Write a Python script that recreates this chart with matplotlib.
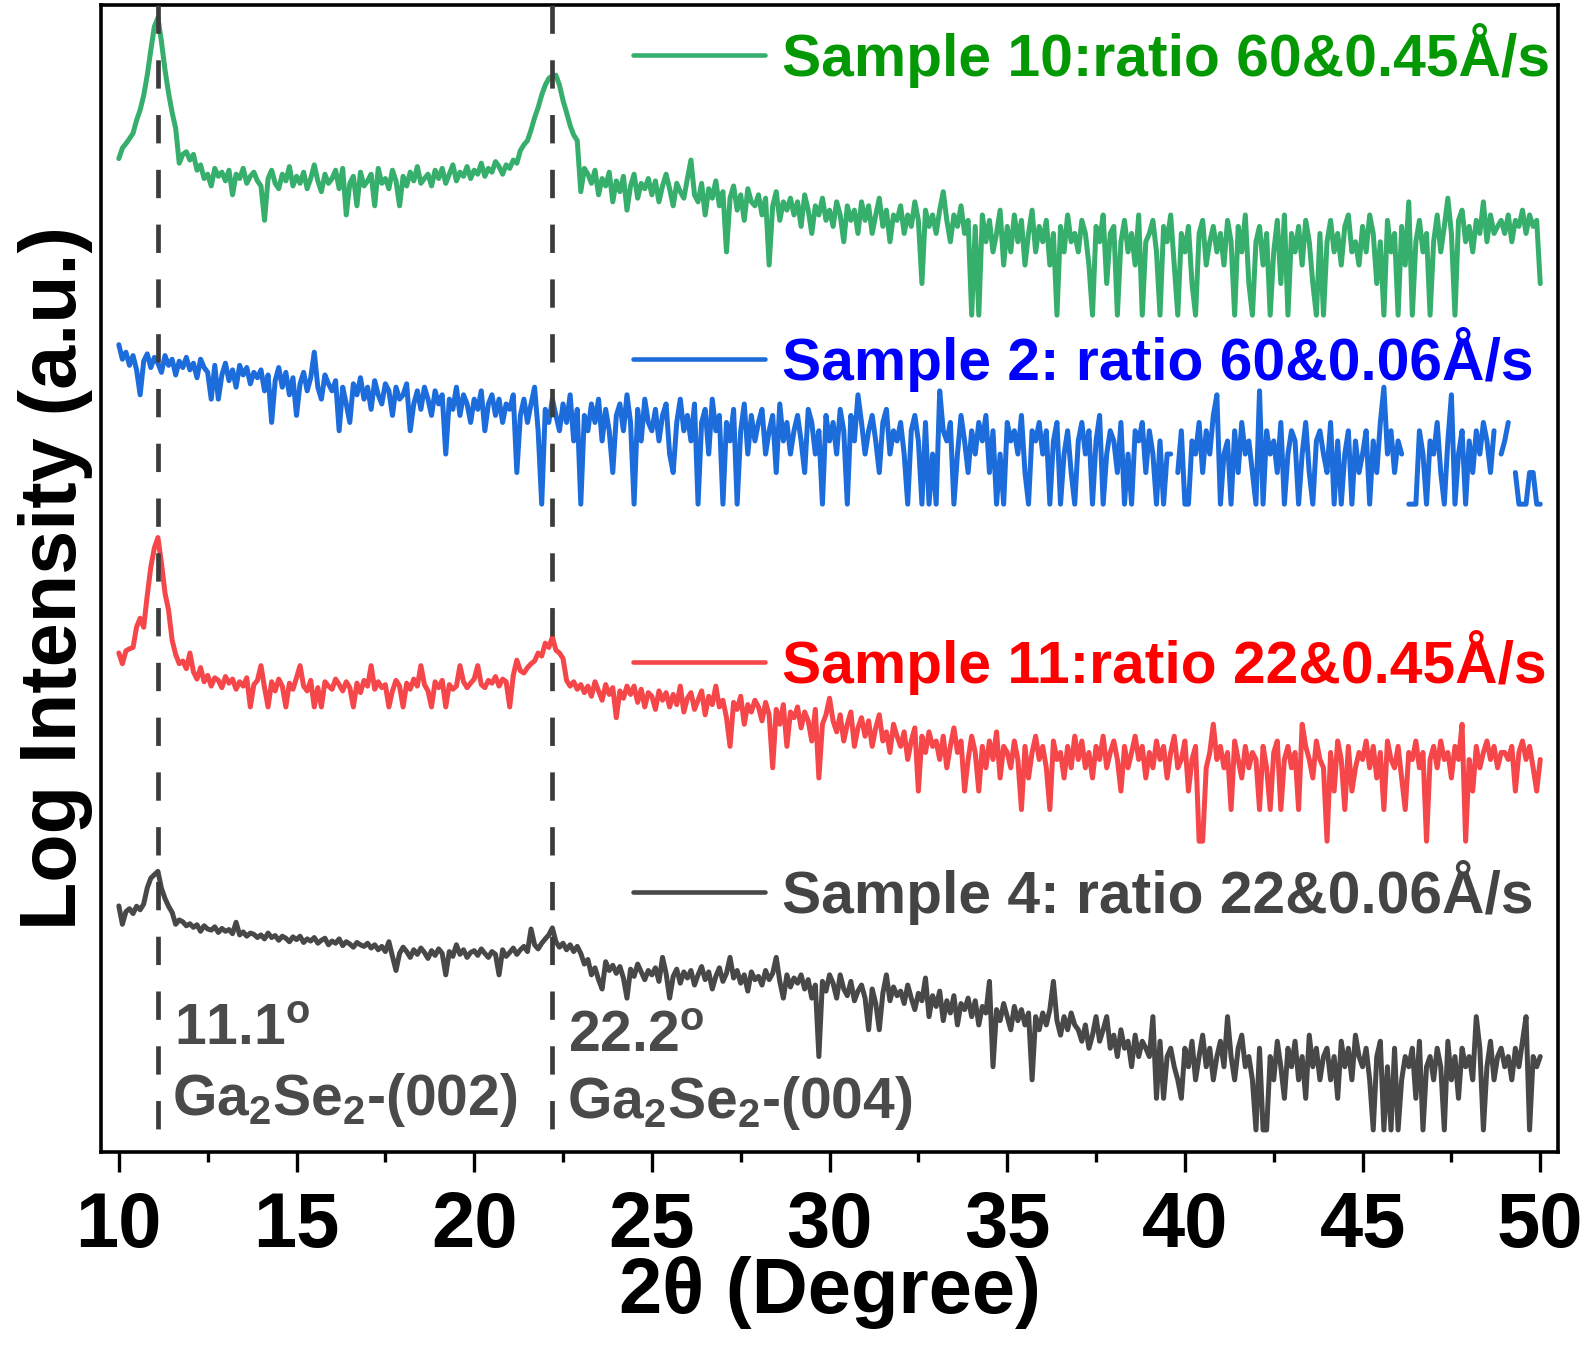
import numpy as np
import matplotlib
matplotlib.use("Agg")
import matplotlib.pyplot as plt
from matplotlib.ticker import MultipleLocator
from matplotlib.transforms import blended_transform_factory

# ---------------------------------------------------------------------------
# XRD scans, 2-theta from 10 to 50 degree in 0.1 degree steps (raw counts).
# A count of 0 cannot be shown on the log scale and leaves a gap in the line.
# ---------------------------------------------------------------------------
two_theta_range = (10.0, 50.0)

counts_s10 = [
    31, 39, 43, 48, 54, 72, 90, 124, 193, 334,
    560, 680, 400, 216, 130, 85, 60, 28, 34, 36,
    30, 34, 24, 27, 20, 22, 17, 25, 21, 23,
    19, 24, 14, 22, 20, 25, 18, 21, 23, 19,
    17, 8, 20, 24, 18, 16, 22, 19, 26, 17,
    21, 18, 23, 16, 20, 27, 19, 15, 22, 18,
    20, 24, 16, 25, 9, 18, 21, 11, 23, 17,
    19, 22, 11, 25, 18, 20, 16, 24, 19, 11,
    21, 17, 23, 19, 26, 18, 20, 22, 17, 24,
    20, 25, 18, 22, 27, 19, 23, 21, 26, 20,
    24, 22, 28, 21, 25, 23, 29, 26, 22, 27,
    25, 30, 28, 37, 42, 46, 58, 76, 95, 125,
    155, 180, 190, 193, 155, 111, 85, 64, 52, 46,
    15, 25, 22, 18, 24, 14, 20, 17, 23, 12,
    19, 15, 21, 10, 17, 22, 13, 18, 16, 20,
    14, 19, 12, 17, 22, 16, 11, 18, 15, 13,
    20, 30, 14, 12, 18, 9, 16, 13, 19, 11,
    15, 4, 13, 17, 10, 14, 8, 16, 12, 11,
    14, 9, 13, 3, 11, 15, 8, 12, 10, 13,
    9, 12, 7, 14, 10, 6, 11, 9, 13, 8,
    10, 7, 12, 9, 5, 11, 8, 10, 6, 12,
    8, 11, 6, 9, 13, 7, 10, 5, 9, 8,
    11, 6, 9, 7, 12, 8, 2, 10, 7, 9,
    6, 10, 15, 8, 5, 9, 7, 11, 6, 8,
    1, 7, 1, 9, 5, 8, 4, 6, 10, 3,
    7, 4, 9, 5, 8, 3, 6, 10, 4, 7,
    5, 8, 3, 6, 1, 7, 4, 9, 5, 6,
    4, 8, 6, 3, 1, 7, 5, 9, 2, 6,
    7, 1, 5, 8, 4, 6, 3, 9, 1, 5,
    6, 8, 4, 1, 7, 5, 9, 3, 1, 6,
    4, 7, 2, 1, 6, 8, 3, 5, 7, 4,
    6, 3, 8, 5, 1, 7, 4, 9, 2, 1,
    5, 7, 3, 6, 1, 4, 8, 2, 9, 1,
    6, 4, 7, 3, 8, 5, 2, 1, 6, 1,
    5, 8, 4, 6, 3, 7, 9, 4, 5, 3,
    7, 4, 9, 6, 2, 5, 1, 8, 4, 6,
    1, 7, 3, 12, 1, 5, 8, 4, 6, 1,
    5, 9, 4, 7, 13, 6, 1, 8, 10, 5,
    7, 4, 8, 6, 12, 5, 9, 6, 7, 8,
    6, 9, 5, 8, 7, 10, 6, 9, 7, 8,
    2,
]

counts_s2 = [
    33, 24, 28, 21, 26, 19, 11, 23, 27, 20,
    25, 22, 18, 26, 21, 24, 17, 23, 20, 25,
    19, 22, 16, 24, 20, 18, 10, 21, 10, 17,
    22, 15, 19, 13, 21, 17, 20, 14, 18, 16,
    19, 12, 17, 6, 15, 20, 13, 18, 11, 16,
    7, 14, 18, 12, 16, 28, 13, 10, 17, 14,
    12, 15, 5, 13, 9, 6, 14, 11, 16, 10,
    13, 8, 15, 11, 9, 14, 12, 7, 13, 10,
    11, 14, 5, 9, 12, 8, 13, 10, 7, 12,
    9, 11, 3, 10, 8, 13, 7, 11, 9, 6,
    10, 8, 12, 5, 9, 11, 7, 10, 6, 9,
    8, 11, 2, 7, 10, 6, 9, 13, 5, 1,
    8, 6, 10, 7, 5, 9, 6, 11, 4, 8,
    1, 7, 5, 9, 6, 10, 4, 8, 5, 2,
    7, 9, 5, 11, 6, 1, 8, 4, 10, 6,
    5, 8, 4, 7, 9, 3, 2, 6, 10, 5,
    7, 4, 9, 1, 6, 8, 3, 10, 5, 7,
    1, 6, 4, 8, 1, 5, 9, 3, 7, 4,
    6, 8, 3, 5, 7, 2, 9, 4, 6, 3,
    5, 7, 4, 2, 8, 6, 3, 5, 1, 7,
    4, 6, 3, 8, 5, 1, 7, 4, 11, 6,
    3, 5, 7, 4, 2, 6, 8, 3, 5, 4,
    6, 3, 1, 5, 7, 4, 1, 6, 1, 3,
    1, 12, 5, 4, 6, 1, 3, 7, 4, 2,
    5, 3, 6, 4, 7, 2, 5, 1, 3, 1,
    6, 4, 5, 3, 7, 2, 1, 5, 4, 6,
    3, 5, 1, 4, 6, 1, 3, 5, 2, 1,
    4, 6, 3, 5, 1, 4, 7, 1, 3, 5,
    4, 2, 6, 1, 3, 1, 5, 4, 6, 2,
    5, 3, 1, 4, 1, 3, 3, 0, 2, 5,
    1, 1, 4, 3, 6, 2, 5, 3, 7, 11,
    1, 3, 4, 1, 5, 2, 6, 3, 4, 2,
    1, 12, 1, 5, 3, 4, 2, 6, 1, 3,
    5, 4, 1, 3, 6, 2, 1, 4, 5, 3,
    2, 6, 1, 4, 1, 3, 5, 1, 4, 2,
    3, 5, 1, 4, 2, 6, 13, 3, 5, 2,
    4, 3, 0, 1, 1, 1, 5, 3, 1, 4,
    3, 6, 2, 1, 4, 11, 1, 3, 5, 1,
    4, 2, 5, 3, 6, 4, 2, 5, 0, 3,
    4, 6, 0, 2, 1, 1, 1, 2, 2, 1,
    1,
]

counts_s11 = [
    62, 49, 65, 68, 70, 110, 133, 109, 220, 408,
    620, 780, 445, 230, 158, 82, 60, 49, 52, 44,
    62, 41, 35, 45, 33, 38, 30, 36, 34, 29,
    37, 32, 35, 28, 33, 30, 36, 19, 31, 34,
    47, 29, 19, 33, 27, 35, 30, 19, 32, 28,
    36, 47, 30, 27, 34, 19, 29, 19, 33, 30,
    28, 35, 31, 27, 33, 29, 19, 32, 26, 34,
    30, 47, 28, 33, 29, 31, 19, 27, 34, 30,
    19, 32, 28, 35, 30, 47, 31, 27, 19, 33,
    29, 34, 19, 31, 28, 30, 47, 33, 29, 32,
    35, 47, 31, 29, 34, 32, 37, 30, 35, 33,
    19, 38, 53, 42, 40, 45, 49, 52, 62, 58,
    77, 70, 88, 66, 62, 55, 34, 30, 33, 28,
    31, 26, 30, 24, 33, 27, 22, 31, 25, 29,
    15, 27, 23, 30, 25, 30, 21, 28, 19, 26,
    24, 18, 27, 22, 26, 19, 25, 20, 30, 17,
    23, 26, 18, 22, 27, 16, 24, 20, 30, 19,
    22, 15, 8, 21, 18, 24, 13, 20, 17, 22,
    19, 14, 21, 16, 5, 18, 13, 20, 8, 17,
    15, 19, 12, 17, 14, 9, 18, 4, 13, 16,
    23, 14, 11, 16, 9, 13, 17, 8, 12, 15,
    10, 14, 8, 12, 16, 9, 11, 7, 13, 10,
    8, 11, 6, 9, 12, 3, 10, 7, 11, 8,
    9, 6, 10, 5, 8, 12, 7, 9, 3, 6,
    10, 7, 3, 8, 5, 9, 6, 11, 4, 8,
    7, 5, 9, 6, 2, 8, 4, 7, 10, 6,
    8, 5, 2, 9, 6, 7, 4, 8, 5, 10,
    6, 9, 5, 7, 4, 8, 6, 10, 5, 7,
    9, 6, 3, 8, 5, 7, 10, 6, 8, 4,
    7, 5, 9, 6, 8, 4, 7, 10, 5, 6,
    9, 3, 6, 8, 1, 1, 5, 7, 13, 6,
    8, 5, 7, 2, 9, 6, 4, 8, 5, 7,
    6, 2, 8, 5, 2, 7, 9, 2, 6, 8,
    5, 7, 2, 13, 8, 6, 4, 9, 6, 5,
    1, 7, 3, 9, 6, 2, 8, 3, 5, 7,
    6, 9, 5, 8, 4, 7, 2, 9, 6, 5,
    8, 4, 2, 7, 6, 9, 5, 7, 1, 6,
    8, 5, 9, 6, 7, 4, 8, 6, 13, 1,
    6, 3, 8, 5, 7, 9, 6, 8, 5, 7,
    7, 6, 8, 3, 7, 9, 6, 8, 5, 3,
    6,
]

counts_s4 = [
    136, 91, 120, 128, 115, 135, 125, 142, 202, 250,
    270, 290, 200, 160, 135, 118, 91, 100, 96, 88,
    92, 85, 90, 78, 88, 82, 80, 86, 76, 83,
    78, 81, 74, 95, 72, 77, 70, 75, 73, 68,
    72, 66, 75, 68, 71, 64, 70, 67, 62, 69,
    65, 70, 61, 66, 63, 68, 60, 64, 67, 58,
    63, 60, 66, 57, 62, 59, 55, 61, 58, 56,
    60, 54, 58, 52, 56, 50, 62, 45, 33, 48,
    55, 50, 44, 52, 47, 54, 49, 43, 51, 46,
    53, 48, 30, 50, 45, 58, 47, 52, 44, 49,
    51, 46, 53, 48, 44, 50, 47, 30, 52, 45,
    49, 54, 47, 52, 56, 50, 82, 58, 53, 60,
    66, 72, 84, 62, 55, 60, 52, 58, 50, 56,
    48, 38, 42, 30, 35, 27, 22, 40, 33, 37,
    31, 36, 28, 18, 34, 29, 38, 32, 27, 33,
    30, 35, 26, 44, 31, 18, 29, 34, 25, 32,
    28, 33, 24, 30, 36, 27, 32, 22, 29, 35,
    26, 31, 44, 28, 33, 25, 30, 21, 32, 27,
    29, 24, 33, 27, 31, 44, 26, 18, 30, 23,
    28, 25, 30, 22, 27, 18, 24, 5, 26, 21,
    30, 25, 18, 30, 22, 19, 26, 17, 21, 24,
    18, 9, 22, 16, 9, 20, 30, 17, 23, 19,
    21, 16, 24, 18, 14, 20, 17, 28, 12, 19,
    15, 21, 11, 17, 13, 19, 10, 16, 14, 18,
    12, 17, 10, 15, 13, 26, 4, 14, 11, 16,
    12, 9, 15, 11, 14, 10, 13, 3, 12, 9,
    13, 10, 14, 26, 11, 8, 12, 9, 13, 10,
    9, 7, 10, 6, 8, 12, 7, 9, 12, 6,
    8, 5, 9, 6, 7, 4, 8, 5, 7, 6,
    5, 12, 2, 7, 2, 5, 6, 4, 3, 2,
    6, 4, 7, 3, 5, 8, 4, 6, 3, 5,
    7, 4, 12, 5, 3, 6, 8, 4, 5, 3,
    1, 6, 1, 1, 5, 3, 7, 4, 2, 6,
    4, 7, 3, 5, 2, 8, 4, 6, 3, 5,
    6, 3, 5, 2, 7, 4, 6, 3, 8, 5,
    4, 6, 3, 1, 5, 7, 1, 4, 1, 6,
    1, 3, 5, 4, 6, 2, 7, 1, 4, 5,
    3, 6, 4, 1, 7, 3, 5, 2, 6, 4,
    5, 3, 12, 6, 1, 4, 7, 3, 5, 6,
    4, 5, 3, 6, 4, 7, 12, 1, 5, 4,
    5,
]

series_counts = [counts_s10, counts_s2, counts_s11, counts_s4]
series_labels = [
    "Sample 10:ratio 60&0.45Å/s",
    "Sample 2: ratio 60&0.06Å/s",
    "Sample 11:ratio 22&0.45Å/s",
    "Sample 4: ratio 22&0.06Å/s",
]
# vertical stacking of the log traces (decades)
series_offsets = [7.97, 6.17, 2.96, 0.21]

peak_positions = [11.1, 22.2]
peak_names = ["Ga$_2$Se$_2$-(002)", "Ga$_2$Se$_2$-(004)"]

x_ticks = [10, 15, 20, 25, 30, 35, 40, 45, 50]

# ---------------------------------------------------------------------------
line_colors = ["#36ae6c", "#1c6cdc", "#f5464a", "#484848"]
text_colors = ["#049804", "#0000ff", "#ff0000", "#444444"]
annot_color = "#4a4a4a"

plt.rcParams["font.family"] = ["Liberation Sans", "DejaVu Sans"]
plt.rcParams["font.weight"] = "bold"
plt.rcParams["mathtext.fontset"] = "custom"
plt.rcParams["mathtext.rm"] = "Liberation Sans:bold"
plt.rcParams["mathtext.it"] = "Liberation Sans:bold"
plt.rcParams["mathtext.bf"] = "Liberation Sans:bold"

fig = plt.figure(figsize=(15.89, 13.48), dpi=100)
ax = fig.add_axes([0.0636, 0.1454, 0.9169, 0.8509])

for counts, off, col in zip(series_counts, series_offsets, line_colors):
    c = np.asarray(counts, dtype=float)
    x = np.linspace(two_theta_range[0], two_theta_range[1], len(c))
    y = np.full_like(c, np.nan)
    ok = c > 0
    y[ok] = np.log10(c[ok]) + off
    ax.plot(x, y, color=col, lw=3.6, solid_joinstyle="round",
            solid_capstyle="round", zorder=2)

# reference lines at the Ga2Se2 reflections, dashes start at the top
xt = ax.get_xaxis_transform()
for p in peak_positions:
    ax.plot([p, p], [1, 0], transform=xt, color="#3c3c3c", lw=3.4,
            linestyle=(0, (6.0, 5.6)), zorder=3, clip_on=False)

ax.set_xlim(9.5, 50.5)
ax.set_ylim(0, 10.924)

# legend keys with coloured labels beside each trace
legend_rows = [0.9564, 0.6914, 0.4272, 0.2267]
for row, lab, lc, tc in zip(legend_rows, series_labels, line_colors, text_colors):
    ax.plot([0.365, 0.4557], [row, row], transform=ax.transAxes,
            color=lc, lw=3.3, solid_capstyle="round", zorder=4)
    ax.text(0.4674, row - 0.0185, lab, transform=ax.transAxes, color=tc,
            fontsize=42.3, fontweight="bold", ha="left", va="baseline", zorder=4)

# peak annotations
bt = blended_transform_factory(ax.transData, ax.transAxes)
angle_rows = [0.0933, 0.0872]
name_rows = [0.0323, 0.0296]
for p, name, ar, nr in zip(peak_positions, peak_names, angle_rows, name_rows):
    ax.text(p + 0.45, ar, f"{p}" + r"$^{\rm o}$", transform=bt,
            color=annot_color, fontsize=41, fontweight="bold",
            ha="left", va="baseline")
    ax.text(p + 0.40, nr, name, transform=bt, color=annot_color,
            fontsize=41, fontweight="bold", ha="left", va="baseline")

# axes styling
for s in ax.spines.values():
    s.set_linewidth(2.6)
ax.set_yticks([])
ax.set_xticks(x_ticks)
ax.xaxis.set_minor_locator(MultipleLocator(2.5))
ax.tick_params(axis="x", which="major", direction="out", length=14.5,
               width=2.4, pad=13, labelsize=56)
ax.tick_params(axis="x", which="minor", direction="out", length=7.5, width=2.4)
for lab in ax.get_xticklabels():
    lab.set_fontweight("bold")

ax.set_xlabel("2θ (Degree)", fontsize=56, fontweight="bold")
ax.xaxis.set_label_coords(0.5, -0.1405)
ax.xaxis.label.set_verticalalignment("baseline")

ax.set_ylabel("Log Intensity (a.u.)", fontsize=57, fontweight="bold")
ax.yaxis.set_label_coords(-0.0055, 0.5)

fig.savefig("out.png", dpi=100)
